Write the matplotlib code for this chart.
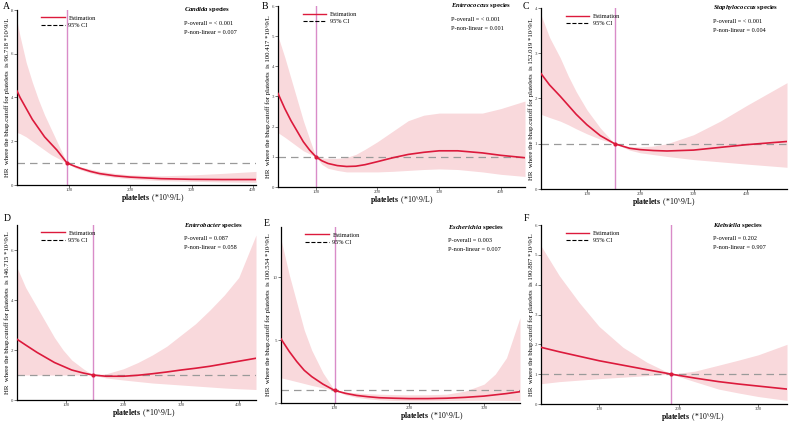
import numpy as np
import matplotlib
matplotlib.use("Agg")
import matplotlib.pyplot as plt
from matplotlib.lines import Line2D

plt.rcParams['font.family'] = ['Liberation Serif', 'DejaVu Serif']
plt.rcParams['mathtext.fontset'] = 'custom'
plt.rcParams['mathtext.rm'] = 'Liberation Serif'
plt.rcParams['mathtext.bf'] = 'Liberation Serif:bold'
plt.rcParams['mathtext.it'] = 'Liberation Serif:italic:bold'

W, H = 790, 423

# ---- panel data ----
letters = ["A", "B", "C", "D", "E", "F"]
species = ["Candida", "Enterococcus", "Staphylococcus", "Enterobacter", "Escherichia", "Klebsiella"]
p_overall = ["< 0.001", "< 0.001", "< 0.001", "0.087", "0.003", "0.202"]
p_nonlin = ["0.007", "0.001", "0.004", "0.058", "0.007", "0.907"]
cutoffs = [96.718, 100.417, 152.019, 146.715, 100.534, 190.887]

xlims = [(15, 405), (39, 439), (14, 475), (15, 430), (29, 348), (27, 336)]
ylims = [(0, 8), (0, 6), (0, 4), (0, 7), (0, 14), (0, 6)]
yticks = [[0, 2, 4, 6, 8], [0, 1, 2, 3, 4, 5, 6], [0, 1, 2, 3, 4], [0, 2, 4, 6],
          [0, 5, 10], [0, 1, 2, 3, 4, 5, 6]]
xticks = [[100, 200, 300, 400], [100, 200, 300, 400], [100, 200, 300, 400],
          [100, 200, 300, 400], [100, 200, 300], [100, 200, 300]]

xA = [15, 20, 30, 40, 50, 60, 70, 80, 96.718, 110, 120, 135, 150, 175, 200, 250, 300, 350, 405]
estA = [4.3, 4.0, 3.5, 3.0, 2.6, 2.2, 1.9, 1.6, 1.0, 0.85, 0.75, 0.62, 0.52, 0.42, 0.36, 0.29, 0.26, 0.25, 0.25]
hiA = [7.5, 6.8, 5.6, 4.7, 3.9, 3.2, 2.6, 2.0, 1.0, 0.9, 0.82, 0.72, 0.63, 0.53, 0.46, 0.42, 0.46, 0.53, 0.62]
loA = [2.4, 2.35, 2.2, 2.0, 1.8, 1.6, 1.4, 1.25, 1.0, 0.78, 0.68, 0.55, 0.45, 0.35, 0.28, 0.2, 0.17, 0.14, 0.12]

xB = [39, 50, 60, 70, 80, 90, 100.417, 110, 120, 135, 150, 165, 180, 200, 225, 250, 275, 300, 330, 370, 400, 439]
estB = [3.1, 2.6, 2.2, 1.85, 1.5, 1.23, 1.0, 0.87, 0.78, 0.71, 0.68, 0.69, 0.74, 0.84, 0.97, 1.08, 1.15, 1.2, 1.2, 1.13, 1.05, 0.97]
hiB = [5.0, 4.3, 3.6, 2.9, 2.2, 1.6, 1.0, 0.96, 0.95, 0.95, 0.98, 1.08, 1.25, 1.5, 1.85, 2.2, 2.38, 2.45, 2.45, 2.45, 2.6, 2.85]
loB = [1.8, 1.65, 1.5, 1.35, 1.2, 1.1, 1.0, 0.75, 0.62, 0.55, 0.5, 0.5, 0.5, 0.5, 0.52, 0.55, 0.58, 0.6, 0.58, 0.5, 0.42, 0.35]

xC = [14, 30, 50, 65, 80, 100, 125, 152.019, 180, 200, 225, 250, 300, 350, 400, 475]
estC = [2.55, 2.3, 2.05, 1.85, 1.65, 1.42, 1.18, 1.0, 0.9, 0.87, 0.85, 0.84, 0.86, 0.92, 0.98, 1.05]
hiC = [3.85, 3.35, 2.9, 2.5, 2.15, 1.75, 1.35, 1.0, 0.93, 0.93, 0.95, 1.0, 1.2, 1.5, 1.85, 2.35]
loC = [1.65, 1.58, 1.5, 1.42, 1.33, 1.22, 1.1, 1.0, 0.86, 0.8, 0.76, 0.72, 0.65, 0.6, 0.55, 0.48]

xD = [15, 30, 50, 65, 80, 95, 110, 130, 146.715, 170, 200, 225, 250, 275, 300, 325, 350, 375, 400, 430]
estD = [2.43, 2.2, 1.9, 1.7, 1.5, 1.35, 1.2, 1.08, 1.0, 0.95, 0.95, 0.99, 1.05, 1.12, 1.2, 1.27, 1.35, 1.45, 1.55, 1.67]
hiD = [5.3, 4.5, 3.7, 3.1, 2.5, 2.0, 1.6, 1.25, 1.0, 1.05, 1.25, 1.5, 1.8, 2.15, 2.6, 3.05, 3.6, 4.2, 4.9, 6.6]
loD = [1.0, 1.0, 1.0, 1.0, 1.0, 1.0, 1.0, 1.0, 1.0, 0.88, 0.8, 0.74, 0.68, 0.64, 0.6, 0.56, 0.52, 0.48, 0.45, 0.42]

xE = [29, 40, 50, 60, 70, 85, 100.534, 115, 130, 145, 160, 180, 200, 225, 250, 275, 300, 315, 330, 348]
estE = [5.1, 4.1, 3.3, 2.6, 2.1, 1.5, 1.0, 0.77, 0.6, 0.5, 0.42, 0.38, 0.35, 0.35, 0.38, 0.45, 0.55, 0.65, 0.75, 0.9]
hiE = [13.0, 10.2, 8.0, 5.8, 4.2, 2.4, 1.0, 0.88, 0.8, 0.74, 0.7, 0.67, 0.65, 0.66, 0.7, 0.95, 1.5, 2.3, 3.6, 6.8]
loE = [2.0, 1.85, 1.7, 1.55, 1.4, 1.2, 1.0, 0.65, 0.45, 0.33, 0.25, 0.2, 0.18, 0.18, 0.2, 0.21, 0.22, 0.21, 0.2, 0.18]

xF = [27, 50, 75, 100, 130, 160, 190.887, 220, 250, 275, 300, 336]
estF = [1.9, 1.75, 1.6, 1.45, 1.3, 1.15, 1.0, 0.87, 0.75, 0.67, 0.6, 0.5]
hiF = [5.3, 4.3, 3.4, 2.6, 1.9, 1.4, 1.0, 1.1, 1.3, 1.47, 1.65, 2.0]
loF = [0.68, 0.75, 0.8, 0.85, 0.9, 0.95, 1.0, 0.75, 0.5, 0.37, 0.25, 0.12]

xs = [xA, xB, xC, xD, xE, xF]
ests = [estA, estB, estC, estD, estE, estF]
his = [hiA, hiB, hiC, hiD, hiE, hiF]
los = [loA, loB, loC, loD, loE, loF]

# axes boxes in pixels: left, top, right, bottom
boxes = [(17, 10, 256, 185), (278, 6, 525, 187), (541, 8, 787, 189),
         (17, 225, 256, 400), (281, 227, 520, 403), (541, 225, 787, 404)]
letter_pos = [(3, 2), (262, 2), (523, 2), (4, 214), (264, 219), (524, 214)]
xlab_center = [153, 402, 664, 144, 432, 693]

red = "#DC1A3C"
band = "#F9D9DC"
vcol = "#D98CC8"

fig = plt.figure(figsize=(W / 100, H / 100), dpi=100)

for i in range(6):
    l, t, r, b = boxes[i]
    ax = fig.add_axes([l / W, 1 - b / H, (r - l) / W, (b - t) / H])
    ax.fill_between(xs[i], los[i], his[i], color=band, lw=0, zorder=1)
    ax.axhline(1, color="#9a9a9a", ls=(0, (6, 4)), lw=0.9, zorder=2)
    ax.axvline(cutoffs[i], color=vcol, lw=1.0, zorder=2)
    ax.plot(xs[i], ests[i], color=red, lw=1.2, zorder=3)
    ax.plot([cutoffs[i]], [1], "o", color=red, ms=2, zorder=4)
    ax.set_xlim(xlims[i])
    ax.set_ylim(ylims[i])
    ax.set_xticks(xticks[i])
    ax.set_yticks(yticks[i])
    ax.tick_params(labelsize=3.5, length=2, width=0.5, pad=0.5, colors="#444444")
    for s in ["top", "right"]:
        ax.spines[s].set_visible(False)
    for s in ["left", "bottom"]:
        ax.spines[s].set_linewidth(0.9)
    ax.set_xlabel(r"$\bf{platelets}$  (*10^9/L)", fontsize=5.5)
    ax.xaxis.set_label_coords((xlab_center[i] - l) / (r - l), -13 / (b - t), transform=ax.transAxes)
    ax.xaxis.label.set_va("center")
    ax.set_ylabel("HR  where the bhap.cutoff for platelets  is %.3f *10^9/L" % cutoffs[i],
                  fontsize=4.9, labelpad=1)
    handles = [Line2D([], [], color=red, lw=1), Line2D([], [], color="black", lw=0.8, ls="--")]
    ax.legend(handles, ["Estimation", "95% CI"], loc="upper left", bbox_to_anchor=(0.1, 0.97),
              frameon=False, fontsize=4.5, handlelength=3.8, handletextpad=0.6,
              labelspacing=0.35, borderpad=0, borderaxespad=0)
    ax.text(0.70, 1.0, r"$\it{%s}$ species" % species[i], transform=ax.transAxes,
            fontsize=4.8, fontweight="bold", va="center", ha="left")
    ax.text(0.70, 0.925, "P-overall = " + p_overall[i], transform=ax.transAxes,
            fontsize=4.5, va="center", ha="left")
    ax.text(0.70, 0.874, "P-non-linear = " + p_nonlin[i], transform=ax.transAxes,
            fontsize=4.5, va="center", ha="left")
    fig.text(letter_pos[i][0] / W, 1 - letter_pos[i][1] / H, letters[i], fontsize=7, va="top", ha="left")

fig.savefig("out.png", dpi=100)
